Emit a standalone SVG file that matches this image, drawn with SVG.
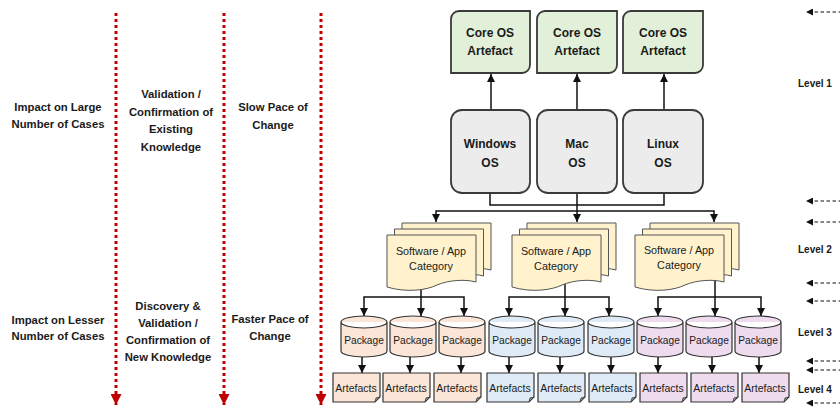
<svg xmlns="http://www.w3.org/2000/svg" width="840" height="408" viewBox="0 0 840 408">
<style>
text{font-family:"Liberation Sans",Arial,sans-serif;fill:#1a1a1a}
.b{font-weight:bold;font-size:11.3px;text-anchor:middle}
.nb{font-weight:bold;font-size:12px;text-anchor:middle}
.lv{font-weight:bold;font-size:10px}
.sw{font-size:10.8px;text-anchor:middle}
.pk{font-size:10.2px;text-anchor:middle}
.af{font-size:10.5px;text-anchor:middle}
.core{fill:#e2f0d9;stroke:#3a3a3a;stroke-width:1.8}
.os{fill:#ececec;stroke:#3a3a3a;stroke-width:1.8}
.doc{fill:#fff2cc;stroke:#555;stroke-width:1}
.g1{fill:#fbe5d6;stroke:#333;stroke-width:1.2}
.g2{fill:#deebf7;stroke:#333;stroke-width:1.2}
.g3{fill:#eedcee;stroke:#333;stroke-width:1.2}
.ln{fill:none;stroke:#111;stroke-width:1.5}
.red{fill:none;stroke:#c00000;stroke-width:3;stroke-dasharray:3 3}
.dash{fill:none;stroke:#111;stroke-width:1.2;stroke-dasharray:3.5 2.5}
.fold{fill:#999;stroke:#333;stroke-width:0.8}
</style>
<defs>
<marker id="ah" viewBox="0 0 10 10" refX="10" refY="5" markerWidth="8" markerHeight="8" markerUnits="userSpaceOnUse" orient="auto"><path d="M0,0 L10,5 L0,10 z" fill="#111"/></marker>
<marker id="rah" viewBox="0 0 10 10" refX="10" refY="5" markerWidth="11" markerHeight="11" markerUnits="userSpaceOnUse" orient="auto"><path d="M0,0 L10,5 L0,10 z" fill="#c00000"/></marker>
<marker id="dah" viewBox="0 0 10 10" refX="10" refY="5" markerWidth="7" markerHeight="7" markerUnits="userSpaceOnUse" orient="auto"><path d="M0,0 L10,5 L0,10 z" fill="#111"/></marker>
<path id="docshape" d="M0,0 H89 V47 C78,44 62,45 50,50 C40,55 20,58 0,52 Z"/>
</defs>

<g id="connectors">
  <line class="red" x1="116" y1="13" x2="116" y2="405" marker-end="url(#rah)"/>
  <line class="red" x1="224" y1="13" x2="224" y2="405" marker-end="url(#rah)"/>
  <line class="red" x1="321" y1="13" x2="321" y2="405" marker-end="url(#rah)"/>
  <line class="ln" x1="491" y1="110" x2="491" y2="74" marker-end="url(#ah)"/>
  <line class="ln" x1="577" y1="110" x2="577" y2="74" marker-end="url(#ah)"/>
  <line class="ln" x1="664" y1="110" x2="664" y2="74" marker-end="url(#ah)"/>
  <path class="ln" d="M490,193 V205 H664 V193"/>
  <path class="ln" d="M577,193 V222" marker-end="url(#ah)"/>
  <path class="ln" d="M577,211 H436 V222" marker-end="url(#ah)"/>
  <path class="ln" d="M577,211 H714 V222" marker-end="url(#ah)"/>
  <path class="ln" d="M421,286 V316" marker-end="url(#ah)"/>
  <path class="ln" d="M421,297 H364 V316" marker-end="url(#ah)"/>
  <path class="ln" d="M421,297 H464 V316" marker-end="url(#ah)"/>
  <path class="ln" d="M565,283 V316" marker-end="url(#ah)"/>
  <path class="ln" d="M565,297 H509 V316" marker-end="url(#ah)"/>
  <path class="ln" d="M565,297 H609 V316" marker-end="url(#ah)"/>
  <path class="ln" d="M715,280 V316" marker-end="url(#ah)"/>
  <path class="ln" d="M715,297 H658 V316" marker-end="url(#ah)"/>
  <path class="ln" d="M715,297 H761 V316" marker-end="url(#ah)"/>
  <line class="ln" x1="362" y1="357" x2="362" y2="373" marker-end="url(#ah)"/>
  <line class="ln" x1="410" y1="357" x2="410" y2="373" marker-end="url(#ah)"/>
  <line class="ln" x1="461" y1="357" x2="461" y2="373" marker-end="url(#ah)"/>
  <line class="ln" x1="509" y1="357" x2="509" y2="373" marker-end="url(#ah)"/>
  <line class="ln" x1="560" y1="357" x2="560" y2="373" marker-end="url(#ah)"/>
  <line class="ln" x1="611" y1="357" x2="611" y2="373" marker-end="url(#ah)"/>
  <line class="ln" x1="658" y1="357" x2="658" y2="373" marker-end="url(#ah)"/>
  <line class="ln" x1="712" y1="357" x2="712" y2="373" marker-end="url(#ah)"/>
  <line class="ln" x1="759" y1="357" x2="759" y2="373" marker-end="url(#ah)"/>
  <line class="dash" x1="842" y1="12" x2="806" y2="12" marker-end="url(#dah)"/>
  <line class="dash" x1="842" y1="201" x2="806" y2="201" marker-end="url(#dah)"/>
  <line class="dash" x1="842" y1="222" x2="806" y2="222" marker-end="url(#dah)"/>
  <line class="dash" x1="842" y1="283" x2="806" y2="283" marker-end="url(#dah)"/>
  <line class="dash" x1="842" y1="301" x2="806" y2="301" marker-end="url(#dah)"/>
  <line class="dash" x1="842" y1="361" x2="806" y2="361" marker-end="url(#dah)"/>
  <line class="dash" x1="842" y1="370" x2="806" y2="370" marker-end="url(#dah)"/>
  <line class="dash" x1="842" y1="403" x2="806" y2="403" marker-end="url(#dah)"/>
</g>

<g id="left-labels">
  <text class="b" x="58" y="111">Impact on Large</text>
  <text class="b" x="58" y="128">Number of Cases</text>
  <text class="b" x="171" y="98">Validation /</text>
  <text class="b" x="171" y="116">Confirmation of</text>
  <text class="b" x="171" y="133">Existing</text>
  <text class="b" x="171" y="151">Knowledge</text>
  <text class="b" x="273" y="111">Slow Pace of</text>
  <text class="b" x="273" y="129">Change</text>
  <text class="b" x="58" y="324">Impact on Lesser</text>
  <text class="b" x="58" y="340">Number of Cases</text>
  <text class="b" x="168" y="310">Discovery &amp;</text>
  <text class="b" x="168" y="327">Validation /</text>
  <text class="b" x="168" y="344">Confirmation of</text>
  <text class="b" x="168" y="361">New Knowledge</text>
  <text class="b" x="270" y="323">Faster Pace of</text>
  <text class="b" x="270" y="340">Change</text>
</g>

<g id="levels">
  <text class="lv" x="798" y="87">Level 1</text>
  <text class="lv" x="798" y="253">Level 2</text>
  <text class="lv" x="798" y="336">Level 3</text>
  <text class="lv" x="798" y="393">Level 4</text>
</g>

<g id="core-windows">
  <path class="core" d="M459,11 H530 V65 A8,8 0 0 1 522,73 H451 V19 A8,8 0 0 1 459,11 Z"/>
  <text class="nb" x="490" y="37">Core OS</text>
  <text class="nb" x="490" y="55">Artefact</text>
</g>
<g id="core-mac">
  <path class="core" d="M545,11 H617 V65 A8,8 0 0 1 609,73 H537 V19 A8,8 0 0 1 545,11 Z"/>
  <text class="nb" x="577" y="37">Core OS</text>
  <text class="nb" x="577" y="55">Artefact</text>
</g>
<g id="core-linux">
  <path class="core" d="M631,11 H703 V65 A8,8 0 0 1 695,73 H623 V19 A8,8 0 0 1 631,11 Z"/>
  <text class="nb" x="663" y="37">Core OS</text>
  <text class="nb" x="663" y="55">Artefact</text>
</g>

<g id="os-windows">
  <rect class="os" x="451" y="110" width="79" height="83" rx="11"/>
  <text class="nb" x="490" y="148">Windows</text>
  <text class="nb" x="490" y="167">OS</text>
</g>
<g id="os-mac">
  <rect class="os" x="537" y="110" width="80" height="83" rx="11"/>
  <text class="nb" x="577" y="148">Mac</text>
  <text class="nb" x="577" y="167">OS</text>
</g>
<g id="os-linux">
  <rect class="os" x="623" y="110" width="80" height="83" rx="11"/>
  <text class="nb" x="663" y="148">Linux</text>
  <text class="nb" x="663" y="167">OS</text>
</g>

<g id="category-1">
  <use href="#docshape" class="doc" x="402" y="223"/>
  <use href="#docshape" class="doc" x="394.5" y="229"/>
  <use href="#docshape" class="doc" x="387" y="235"/>
  <text class="sw" x="431" y="255">Software / App</text>
  <text class="sw" x="431" y="270">Category</text>
</g>
<g id="category-2">
  <use href="#docshape" class="doc" x="527" y="223"/>
  <use href="#docshape" class="doc" x="519.5" y="229"/>
  <use href="#docshape" class="doc" x="512" y="235"/>
  <text class="sw" x="556" y="255">Software / App</text>
  <text class="sw" x="556" y="270">Category</text>
</g>
<g id="category-3">
  <use href="#docshape" class="doc" x="650" y="223"/>
  <use href="#docshape" class="doc" x="642.5" y="229"/>
  <use href="#docshape" class="doc" x="635" y="235"/>
  <text class="sw" x="679" y="254">Software / App</text>
  <text class="sw" x="679" y="269">Category</text>
</g>

<g id="package-1"><path class="g1" d="M341,322 A23,6 0 0 1 387,322 V351 A23,6 0 0 1 341,351 Z M341,322 A23,6 0 0 0 387,322"/><text class="pk" x="364" y="344">Package</text></g>
<g id="package-2"><path class="g1" d="M390,322 A23,6 0 0 1 436,322 V351 A23,6 0 0 1 390,351 Z M390,322 A23,6 0 0 0 436,322"/><text class="pk" x="413" y="344">Package</text></g>
<g id="package-3"><path class="g1" d="M439,322 A23,6 0 0 1 485,322 V351 A23,6 0 0 1 439,351 Z M439,322 A23,6 0 0 0 485,322"/><text class="pk" x="462" y="344">Package</text></g>
<g id="package-4"><path class="g2" d="M489,322 A23,6 0 0 1 535,322 V351 A23,6 0 0 1 489,351 Z M489,322 A23,6 0 0 0 535,322"/><text class="pk" x="512" y="344">Package</text></g>
<g id="package-5"><path class="g2" d="M538,322 A23,6 0 0 1 584,322 V351 A23,6 0 0 1 538,351 Z M538,322 A23,6 0 0 0 584,322"/><text class="pk" x="561" y="344">Package</text></g>
<g id="package-6"><path class="g2" d="M588,322 A23,6 0 0 1 634,322 V351 A23,6 0 0 1 588,351 Z M588,322 A23,6 0 0 0 634,322"/><text class="pk" x="611" y="344">Package</text></g>
<g id="package-7"><path class="g3" d="M637,322 A23,6 0 0 1 683,322 V351 A23,6 0 0 1 637,351 Z M637,322 A23,6 0 0 0 683,322"/><text class="pk" x="660" y="344">Package</text></g>
<g id="package-8"><path class="g3" d="M686,322 A23,6 0 0 1 732,322 V351 A23,6 0 0 1 686,351 Z M686,322 A23,6 0 0 0 732,322"/><text class="pk" x="709" y="344">Package</text></g>
<g id="package-9"><path class="g3" d="M735,322 A23,6 0 0 1 781,322 V351 A23,6 0 0 1 735,351 Z M735,322 A23,6 0 0 0 781,322"/><text class="pk" x="758" y="344">Package</text></g>

<g id="artefacts-1"><path class="g1" d="M333,373 H380 V397 L375,402 H333 Z"/><path class="fold" d="M380,397 L376,398 L375,402 Z"/><text class="af" x="356" y="392">Artefacts</text></g>
<g id="artefacts-2"><path class="g1" d="M383,373 H430 V397 L425,402 H383 Z"/><path class="fold" d="M430,397 L426,398 L425,402 Z"/><text class="af" x="406" y="392">Artefacts</text></g>
<g id="artefacts-3"><path class="g1" d="M434,373 H481 V397 L476,402 H434 Z"/><path class="fold" d="M481,397 L477,398 L476,402 Z"/><text class="af" x="457" y="392">Artefacts</text></g>
<g id="artefacts-4"><path class="g2" d="M487,373 H534 V397 L529,402 H487 Z"/><path class="fold" d="M534,397 L530,398 L529,402 Z"/><text class="af" x="510" y="392">Artefacts</text></g>
<g id="artefacts-5"><path class="g2" d="M538,373 H585 V397 L580,402 H538 Z"/><path class="fold" d="M585,397 L581,398 L580,402 Z"/><text class="af" x="561" y="392">Artefacts</text></g>
<g id="artefacts-6"><path class="g2" d="M589,373 H636 V397 L631,402 H589 Z"/><path class="fold" d="M636,397 L632,398 L631,402 Z"/><text class="af" x="612" y="392">Artefacts</text></g>
<g id="artefacts-7"><path class="g3" d="M640,373 H687 V397 L682,402 H640 Z"/><path class="fold" d="M687,397 L683,398 L682,402 Z"/><text class="af" x="663" y="392">Artefacts</text></g>
<g id="artefacts-8"><path class="g3" d="M691,373 H738 V397 L733,402 H691 Z"/><path class="fold" d="M738,397 L734,398 L733,402 Z"/><text class="af" x="714" y="392">Artefacts</text></g>
<g id="artefacts-9"><path class="g3" d="M742,373 H789 V397 L784,402 H742 Z"/><path class="fold" d="M789,397 L785,398 L784,402 Z"/><text class="af" x="765" y="392">Artefacts</text></g>
</svg>
